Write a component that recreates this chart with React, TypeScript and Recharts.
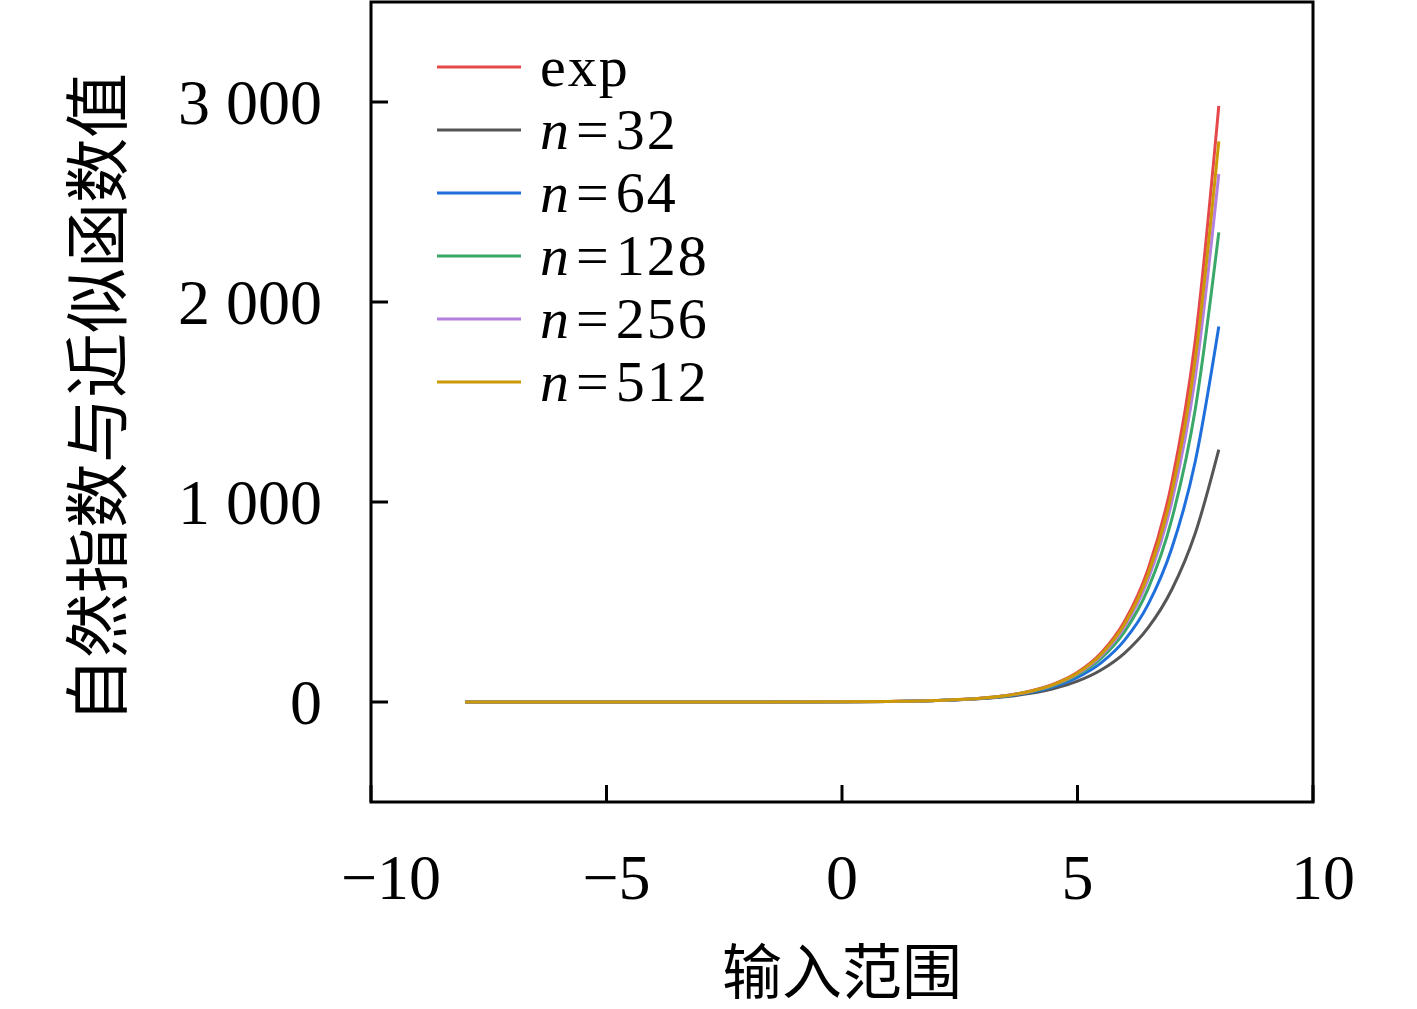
import React from "react";
import { LineChart, Line, XAxis, YAxis, ReferenceArea, Legend } from "recharts";

// x samples and the values
const xValues = [-8, -6, -4, -2, 0, 1, 2, 3, 3.5, 4, 4.5, 5, 5.5, 6, 6.5, 7, 7.5, 8];
const expValues = [0.0003, 0.0025, 0.018, 0.135, 1, 2.72, 7.39, 20.1, 33.1, 54.6, 90.0, 148.4, 244.7, 403.4, 665.1, 1096.6, 1808.0, 2981.0];
const n32Values = [0.0001, 0.0013, 0.014, 0.127, 1, 2.68, 6.96, 17.6, 27.7, 43.3, 67.4, 104.1, 160.0, 244.5, 371.4, 561.3, 843.7, 1262.2];
const n64Values = [0.0002, 0.0019, 0.016, 0.131, 1, 2.70, 7.17, 18.8, 30.2, 48.4, 77.4, 123.3, 195.7, 309.4, 488.1, 767.3, 1202.6, 1877.6];
const n128Values = [0.0003, 0.0022, 0.017, 0.133, 1, 2.71, 7.28, 19.4, 31.6, 51.3, 83.3, 134.9, 218.2, 352.0, 566.8, 911.4, 1463.7, 2348.0];
const n256Values = [0.0003, 0.0023, 0.018, 0.134, 1, 2.71, 7.34, 19.7, 32.3, 52.9, 86.6, 141.4, 230.9, 376.4, 613.4, 998.4, 1624.0, 2640.0];
const n512Values = [0.0003, 0.0024, 0.018, 0.135, 1, 2.72, 7.36, 19.9, 32.7, 53.8, 88.3, 144.9, 237.6, 389.6, 638.4, 1045.8, 1713.0, 2803.0];

const seriesKeys = ["exp", "n32", "n64", "n128", "n256", "n512"];
const seriesLabels = ["exp", "32", "64", "128", "256", "512"];
const seriesColors = ["#e5484a", "#555555", "#1f6fdc", "#3aa869", "#b47fde", "#cc9a06"];
const seriesValues = [expValues, n32Values, n64Values, n128Values, n256Values, n512Values];

const xTicks = [-10, -5, 0, 5, 10];
const yTicks = [0, 1000, 2000, 3000];

const data = xValues.map((x, i) => {
  const row: Record<string, number> = { x };
  seriesKeys.forEach((k, j) => {
    row[k] = seriesValues[j][i];
  });
  return row;
});

const serif = "'Liberation Serif', 'Times New Roman', serif";
const cjk = "'Noto Sans CJK SC', sans-serif";

const fmtNum = (v: number) => {
  const s = Math.abs(v).toString().replace(/\B(?=(\d{3})+(?!\d))/g, " ");
  return v < 0 ? `\u2212${s}` : s;
};

const YTick = ({ x, y, payload }: any) => (
  <g>
    <line x1={x} x2={x + 17} y1={y} y2={y} stroke="#000" strokeWidth={3} />
    <text
      x={x - 49}
      y={y}
      textAnchor="end"
      dominantBaseline="central"
      fontFamily={serif}
      fontSize={64}
      fill="#000"
    >
      {fmtNum(payload.value)}
    </text>
  </g>
);

const XTick = ({ x, y, payload }: any) => {
  const label = fmtNum(payload.value);
  return (
    <g>
      <line x1={x} x2={x} y1={y} y2={y - 17} stroke="#000" strokeWidth={3} />
      <text
        x={x + (label.length - 1) * 10}
        y={y + 75}
        textAnchor="middle"
        dominantBaseline="central"
        fontFamily={serif}
        fontSize={64}
        fill="#000"
      >
        {label}
      </text>
    </g>
  );
};

const renderLegend = () => (
  <div style={{ fontFamily: serif, fontSize: 54, lineHeight: "63px", color: "#000", letterSpacing: 2 }}>
    {seriesKeys.map((k, i) => (
      <div key={k} style={{ display: "flex", alignItems: "center", height: 63 }}>
        <svg width={84} height={6} style={{ marginRight: 19 }}>
          <line x1={0} x2={84} y1={3} y2={3} stroke={seriesColors[i]} strokeWidth={3} />
        </svg>
        {i === 0 ? (
          <span style={{ fontSize: 58 }}>exp</span>
        ) : (
          <span style={{ fontSize: 58 }}>
            <span style={{ fontStyle: "italic" }}>n</span>
            <span style={{ margin: "0 5px" }}>=</span>
            {seriesLabels[i]}
          </span>
        )}
      </div>
    ))}
  </div>
);

export default function App() {
  return (
    <div style={{ position: "absolute", left: 0, top: 0, width: 1417, height: 1009, background: "#fff" }}>
      <LineChart
        width={1417}
        height={1009}
        data={data}
        margin={{ top: 2, right: 104, bottom: 0, left: 0 }}
      >
        <XAxis
          type="number"
          dataKey="x"
          domain={[-10, 10]}
          ticks={xTicks}
          height={207}
          axisLine={false}
          tickLine={false}
          tickSize={0}
          tickMargin={0}
          tick={<XTick />}
          interval={0}
          label={({ viewBox }: any) => (
            <text
              x={viewBox.x + viewBox.width / 2}
              y={viewBox.y + 165}
              textAnchor="middle"
              dominantBaseline="central"
              fontFamily={cjk}
              fontSize={60}
              fill="#000"
            >
              输入范围
            </text>
          )}
        />
        <YAxis
          type="number"
          domain={[-500, 3500]}
          ticks={yTicks}
          width={371}
          axisLine={false}
          tickLine={false}
          tickSize={0}
          tickMargin={0}
          tick={<YTick />}
          interval={0}
          label={({ viewBox }: any) => {
            const cx = 93;
            const cy = viewBox.y + 396;
            return (
              <text
                x={cx}
                y={cy}
                transform={`rotate(-90 ${cx} ${cy})`}
                textAnchor="middle"
                dominantBaseline="central"
                fontFamily={cjk}
                fontSize={65}
                fill="#000"
              >
                自然指数与近似函数值
              </text>
            );
          }}
        />
        <ReferenceArea
          x1={-10}
          x2={10}
          y1={-500}
          y2={3500}
          fill="none"
          stroke="#000"
          strokeWidth={3}
          ifOverflow="visible"
        />
        {seriesKeys.map((k, i) => (
          <Line
            key={k}
            dataKey={k}
            type="monotone"
            stroke={seriesColors[i]}
            strokeWidth={3}
            dot={false}
            activeDot={false}
            isAnimationActive={false}
          />
        ))}
        <Legend
          layout="vertical"
          align="center"
          verticalAlign="middle"
          content={renderLegend}
          wrapperStyle={{ left: 437, top: 35, width: "auto", height: "auto" }}
        />
      </LineChart>
    </div>
  );
}
